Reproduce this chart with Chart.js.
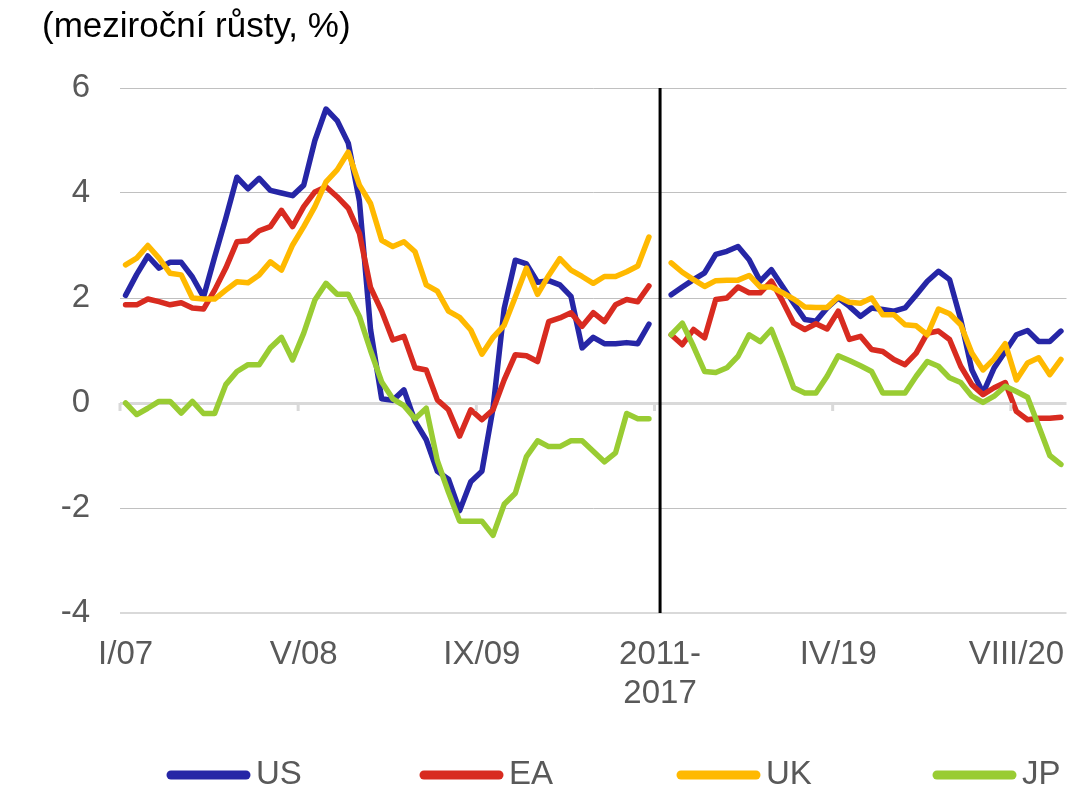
<!DOCTYPE html>
<html>
<head>
<meta charset="utf-8">
<script src="https://cdn.jsdelivr.net/npm/chart.js@4/dist/chart.umd.min.js"></script>
<style>
  body { margin: 0; background: #fff; }
  canvas { display: block; }
</style>
</head>
<body>
<canvas id="chart" width="1083" height="805"></canvas>
<script>
// meziroční růsty v %, měsíčně: I/07–XII/10, mezera 2011–2017, I/18–XII/20
const roman = ['I', 'II', 'III', 'IV', 'V', 'VI', 'VII', 'VIII', 'IX', 'X', 'XI', 'XII'];
const yearsLeft = ['07', '08', '09', '10'];
const yearsRight = ['18', '19', '20'];
const gapLabel = ['2011-', '2017'];

const usLeft = [2.05, 2.45, 2.8, 2.57, 2.68, 2.68, 2.4, 2.02, 2.78, 3.52, 4.3, 4.08,
  4.28, 4.05, 4.0, 3.95, 4.15, 5.0, 5.6, 5.38, 4.95, 3.85, 1.4, 0.08,
  0.05, 0.25, -0.35, -0.7, -1.3, -1.45, -2.05, -1.5, -1.3, -0.1, 1.8, 2.72,
  2.65, 2.3, 2.33, 2.25, 2.03, 1.05, 1.25, 1.13, 1.13, 1.15, 1.13, 1.5];
const eaLeft = [1.87, 1.87, 1.98, 1.93, 1.87, 1.91, 1.81, 1.79, 2.15, 2.57, 3.07, 3.09,
  3.28, 3.36, 3.67, 3.36, 3.74, 4.02, 4.12, 3.93, 3.71, 3.23, 2.2, 1.75,
  1.2, 1.27, 0.67, 0.63, 0.06, -0.13, -0.63, -0.13, -0.32, -0.13, 0.44, 0.92,
  0.9, 0.79, 1.55, 1.62, 1.72, 1.46, 1.72, 1.55, 1.87, 1.97, 1.93, 2.23];
const ukLeft = [2.63, 2.76, 3.0, 2.76, 2.47, 2.44, 2.0, 1.98, 1.98, 2.15, 2.31, 2.29,
  2.44, 2.69, 2.53, 3.01, 3.36, 3.74, 4.21, 4.44, 4.78, 4.15, 3.8, 3.1,
  2.98, 3.07, 2.88, 2.25, 2.13, 1.75, 1.63, 1.39, 0.93, 1.25, 1.48, 2.02,
  2.57, 2.07, 2.43, 2.75, 2.53, 2.41, 2.28, 2.41, 2.41, 2.5, 2.61, 3.16];
const jpLeft = [0.0, -0.22, -0.1, 0.03, 0.03, -0.19, 0.03, -0.2, -0.2, 0.35, 0.6, 0.73,
  0.73, 1.05, 1.25, 0.82, 1.33, 1.96, 2.28, 2.07, 2.07, 1.65, 1.0, 0.4,
  0.08, -0.05, -0.3, -0.1, -1.1, -1.7, -2.25, -2.25, -2.25, -2.52, -1.93, -1.72,
  -1.02, -0.72, -0.83, -0.83, -0.72, -0.72, -0.92, -1.12, -0.95, -0.2, -0.3, -0.3];

const usRight = [2.06, 2.21, 2.35, 2.48, 2.83, 2.89, 2.98, 2.73, 2.32, 2.54, 2.22, 1.9,
  1.59, 1.56, 1.81, 2.0, 1.84, 1.65, 1.81, 1.78, 1.75, 1.81, 2.06, 2.32,
  2.51, 2.35, 1.59, 0.63, 0.19, 0.67, 0.98, 1.3, 1.38, 1.17, 1.17, 1.37];
const eaRight = [1.3, 1.11, 1.4, 1.24, 1.97, 2.0, 2.21, 2.1, 2.1, 2.32, 1.94, 1.52,
  1.4, 1.51, 1.41, 1.75, 1.21, 1.27, 1.02, 0.98, 0.83, 0.73, 0.95, 1.33,
  1.37, 1.21, 0.7, 0.35, 0.16, 0.29, 0.39, -0.16, -0.32, -0.29, -0.29, -0.27];
const ukRight = [2.67, 2.49, 2.35, 2.22, 2.33, 2.34, 2.34, 2.43, 2.21, 2.21, 2.1, 1.98,
  1.83, 1.82, 1.82, 2.02, 1.92, 1.9, 2.0, 1.68, 1.68, 1.49, 1.47, 1.3,
  1.79, 1.7, 1.49, 0.95, 0.63, 0.84, 1.13, 0.44, 0.76, 0.86, 0.54, 0.83];
const jpRight = [1.3, 1.52, 1.08, 0.6, 0.58, 0.67, 0.89, 1.3, 1.17, 1.4, 0.86, 0.29,
  0.19, 0.19, 0.51, 0.9, 0.81, 0.71, 0.6, 0.19, 0.19, 0.19, 0.51, 0.79,
  0.7, 0.48, 0.39, 0.13, 0.01, 0.13, 0.32, 0.22, 0.11, -0.44, -1.0, -1.17];

const seriesNames = ['US', 'EA', 'UK', 'JP'];
const seriesColors = ['#2626a6', '#d82b20', '#ffb900', '#99cc33'];
const yTicks = [-4, -2, 0, 2, 4, 6];

// osa x
const categories = [];
yearsLeft.forEach(y => roman.forEach(m => categories.push(m + '/' + y)));
const gapIndex = categories.length;
categories.push(gapLabel);
yearsRight.forEach(y => roman.forEach(m => categories.push(m + '/' + y)));

const joinParts = (left, right) => left.concat([null], right);
const seriesData = [
  joinParts(usLeft, usRight),
  joinParts(eaLeft, eaRight),
  joinParts(ukLeft, ukRight),
  joinParts(jpLeft, jpRight)
];

const FONT = "'Liberation Sans', Arial, sans-serif";
const GREY = '#595959';

// nadpis, svislá čára, značky na nulové ose, legenda
const extras = {
  id: 'extras',
  afterDraw(chart) {
    const ctx = chart.ctx;
    const x = chart.scales.x;
    const y = chart.scales.y;
    const area = chart.chartArea;
    ctx.save();

    ctx.fillStyle = '#000';
    ctx.font = '35px ' + FONT;
    ctx.textBaseline = 'middle';
    ctx.textAlign = 'left';
    ctx.fillText('(meziroční růsty, %)', 42, 27);

    const step = x.getPixelForValue(1) - x.getPixelForValue(0);
    const y0 = y.getPixelForValue(0);
    ctx.strokeStyle = '#d9d9d9';
    ctx.lineWidth = 3;
    for (let k = 0; k < categories.length; k += 16) {
      const px = x.getPixelForValue(k) - step / 2;
      ctx.beginPath();
      ctx.moveTo(px, y0);
      ctx.lineTo(px, y0 + 8);
      ctx.stroke();
    }

    const gx = x.getPixelForValue(gapIndex);
    ctx.strokeStyle = '#000';
    ctx.lineWidth = 3;
    ctx.beginPath();
    ctx.moveTo(gx, area.top);
    ctx.lineTo(gx, area.bottom);
    ctx.stroke();

    const legendX = [167, 420, 677, 933];
    const legendY = 775;
    ctx.font = '33px ' + FONT;
    chart.data.datasets.forEach((ds, i) => {
      ctx.strokeStyle = ds.borderColor;
      ctx.lineWidth = 9;
      ctx.lineCap = 'round';
      ctx.beginPath();
      ctx.moveTo(legendX[i] + 4, legendY);
      ctx.lineTo(legendX[i] + 79, legendY);
      ctx.stroke();
      ctx.fillStyle = GREY;
      ctx.fillText(ds.label, legendX[i] + 89, legendY);
    });
    ctx.restore();
  }
};

new Chart(document.getElementById('chart'), {
  type: 'line',
  data: {
    labels: categories,
    datasets: seriesNames.map((name, i) => ({
      label: name,
      data: seriesData[i],
      borderColor: seriesColors[i],
      backgroundColor: seriesColors[i],
      borderWidth: 5.5,
      borderCapStyle: 'round',
      borderJoinStyle: 'round',
      pointRadius: 0,
      tension: 0,
      spanGaps: false,
      order: seriesNames.length - i
    }))
  },
  options: {
    responsive: false,
    animation: false,
    devicePixelRatio: 1,
    layout: { padding: { left: 0, right: 10, top: 88, bottom: 0 } },
    plugins: {
      legend: { display: false },
      tooltip: { enabled: false }
    },
    scales: {
      x: {
        offset: true,
        grid: { display: false, drawTicks: false },
        border: { display: false },
        afterFit: (scale) => { scale.height = 192; },
        ticks: {
          autoSkip: false,
          maxRotation: 0,
          padding: 22,
          color: GREY,
          font: { family: FONT, size: 33 },
          callback: function (val, idx) {
            return idx % 16 === 0 ? this.getLabelForValue(val) : '';
          }
        }
      },
      y: {
        min: yTicks[0],
        max: yTicks[yTicks.length - 1],
        afterFit: (scale) => { scale.width = 120; },
        afterBuildTicks: (scale) => { scale.ticks = yTicks.map(v => ({ value: v })); },
        border: { display: false },
        grid: {
          drawTicks: false,
          color: (c) => (c.tick.value === 0 || c.tick.value === -4) ? '#d9d9d9' : '#c0c0c0',
          lineWidth: (c) => c.tick.value === 0 ? 3 : (c.tick.value === -4 ? 2 : 1)
        },
        ticks: {
          padding: 30,
          color: GREY,
          font: { family: FONT, size: 33 }
        }
      }
    }
  },
  plugins: [extras]
});
</script>
</body>
</html>
